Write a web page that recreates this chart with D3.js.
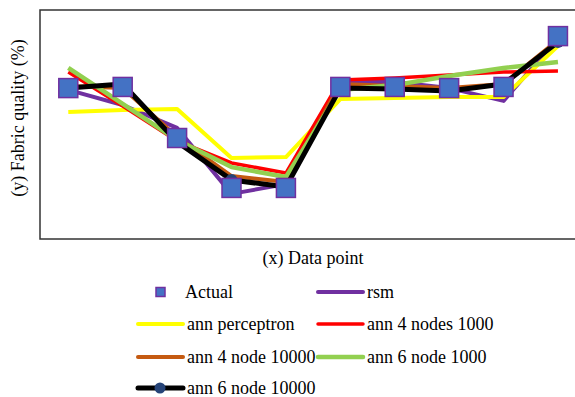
<!DOCTYPE html>
<html>
<head>
<meta charset="utf-8">
<script src="https://cdn.jsdelivr.net/npm/d3@7"></script>
<style>
  body { margin: 0; background: #fff; }
  svg { display: block; font-family: "Liberation Serif", "Times New Roman", serif; }
</style>
</head>
<body>
<svg id="chart" width="575" height="397"></svg>
<script>
// data points 1..10 (no y ticks in the original)
const points = [1, 2, 3, 4, 5, 6, 7, 8, 9, 10];
const actual = [65.9, 66.4, 44.1, 22.3, 22.3, 66.4, 66.4, 65.9, 66.4, 88.6];
const rsm = [65.1, 58.5, 48.5, 19.7, 24.0, 68.6, 68.6, 65.9, 60.3, 87.8];
const annPerceptron = [55.5, 56.3, 56.8, 35.4, 35.8, 61.1, 61.6, 62.0, 62.0, 84.3];
const ann4n1000 = [72.9, 58.1, 42.8, 33.2, 28.8, 69.4, 70.3, 71.6, 72.9, 73.4];
const ann4n10000 = [66.8, 65.9, 44.5, 27.5, 24.9, 67.7, 66.8, 65.9, 67.7, 86.9];
const ann6n1000 = [74.7, 59.0, 43.2, 31.4, 27.1, 65.1, 67.2, 71.2, 74.7, 77.3];
const ann6n10000 = [65.9, 67.7, 42.4, 25.8, 22.7, 65.9, 65.5, 64.6, 67.7, 86.0];

const series = [
  { name: "rsm", values: rsm, color: "#7030A0", width: 4 },
  { name: "ann perceptron", values: annPerceptron, color: "#FFFF00", width: 4 },
  { name: "ann 4 nodes 1000", values: ann4n1000, color: "#FF0000", width: 3.5 },
  { name: "ann 4 node 10000", values: ann4n10000, color: "#C55A11", width: 4 },
  { name: "ann 6 node 1000", values: ann6n1000, color: "#92D050", width: 4.5 },
  { name: "ann 6 node 10000", values: ann6n10000, color: "#000000", width: 5, marker: true }
];

const svg = d3.select("#chart");
const margin = { top: 10, right: -2, bottom: 158, left: 40 };
const width = 575 - margin.left - margin.right;
const height = 397 - margin.top - margin.bottom;

const x = d3.scaleLinear().domain([0.48, 10.35]).range([0, width]);
const y = d3.scaleLinear().domain([0, 100]).range([height, 0]);

const g = svg.append("g")
  .attr("transform", "translate(" + margin.left + "," + margin.top + ")");

// frame
g.append("rect")
  .attr("x", 0).attr("y", 0)
  .attr("width", width).attr("height", height)
  .attr("fill", "none")
  .attr("stroke", "#333")
  .attr("stroke-width", 1.5);

const line = d3.line()
  .x((d, i) => x(points[i]))
  .y(d => y(d));

series.forEach(s => {
  g.append("path")
    .datum(s.values)
    .attr("fill", "none")
    .attr("stroke", s.color)
    .attr("stroke-width", s.width)
    .attr("stroke-linejoin", "round")
    .attr("d", line);
});

// circle markers for ann 6 node 10000
g.selectAll(".dot")
  .data(ann6n10000)
  .enter().append("circle")
  .attr("class", "dot")
  .attr("cx", (d, i) => x(points[i]))
  .attr("cy", d => y(d))
  .attr("r", 6)
  .attr("fill", "#264478");

// actual squares
const sq = 19;
g.selectAll(".sq")
  .data(actual)
  .enter().append("rect")
  .attr("class", "sq")
  .attr("x", (d, i) => x(points[i]) - sq / 2)
  .attr("y", d => y(d) - sq / 2)
  .attr("width", sq).attr("height", sq)
  .attr("fill", "#4472C4")
  .attr("stroke", "#7030A0")
  .attr("stroke-width", 1.5);

// axis titles
svg.append("text")
  .attr("x", 313).attr("y", 264)
  .attr("text-anchor", "middle")
  .attr("font-size", "18px")
  .text("(x) Data point");

svg.append("text")
  .attr("transform", "translate(24,118) rotate(-90)")
  .attr("text-anchor", "middle")
  .attr("font-size", "18px")
  .text("(y) Fabric quality (%)");

// legend
const legend = [
  { name: "Actual", col: 0, row: 0, square: true },
  { name: "rsm", col: 1, row: 0, s: series[0] },
  { name: "ann perceptron", col: 0, row: 1, s: series[1] },
  { name: "ann 4 nodes 1000", col: 1, row: 1, s: series[2] },
  { name: "ann 4 node 10000", col: 0, row: 2, s: series[3] },
  { name: "ann 6 node 1000", col: 1, row: 2, s: series[4] },
  { name: "ann 6 node 10000", col: 0, row: 3, s: series[5] }
];
const rowY = [292, 324, 357, 388];
const colX = [138, 318];

legend.forEach(l => {
  const lx = colX[l.col];
  const ly = rowY[l.row];
  if (l.square) {
    svg.append("rect")
      .attr("x", lx + 18).attr("y", ly - 4.5)
      .attr("width", 9).attr("height", 9)
      .attr("fill", "#4472C4")
      .attr("stroke", "#7030A0")
      .attr("stroke-width", 1.5);
  } else {
    svg.append("line")
      .attr("x1", lx).attr("x2", lx + 45)
      .attr("y1", ly).attr("y2", ly)
      .attr("stroke", l.s.color)
      .attr("stroke-width", l.s.width)
      .attr("stroke-linecap", "round");
    if (l.s.marker) {
      svg.append("circle")
        .attr("cx", lx + 22).attr("cy", ly)
        .attr("r", 5.5)
        .attr("fill", "#264478");
    }
  }
  svg.append("text")
    .attr("x", l.square ? lx + 47 : lx + 49)
    .attr("y", ly + 6)
    .attr("font-size", "18px")
    .text(l.name);
});
</script>
</body>
</html>
